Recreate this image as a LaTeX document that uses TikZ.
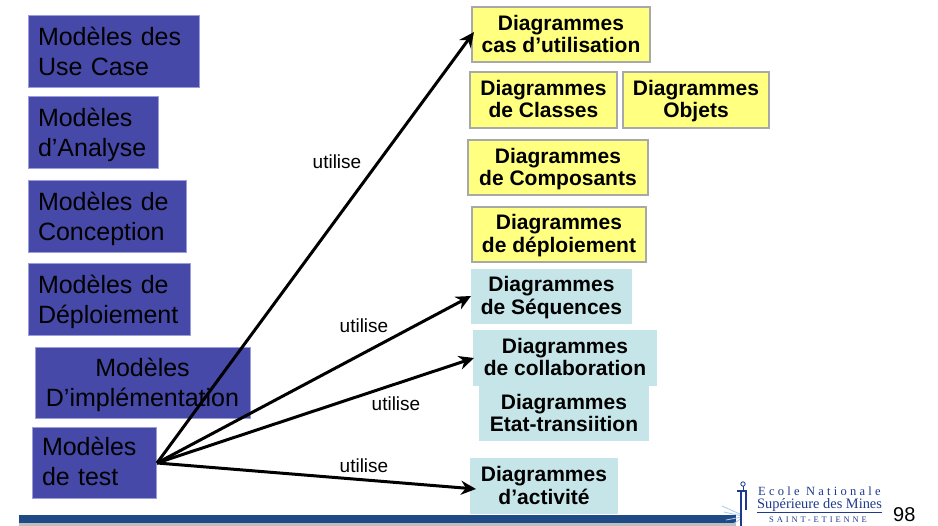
\documentclass[tikz,border=0pt]{standalone}
\usepackage{fontspec}
\setmainfont{Liberation Sans}
\newfontfamily\logofont{Liberation Serif}
\usetikzlibrary{arrows.meta}
\definecolor{modblue}{HTML}{4649A8}
\definecolor{modedge}{HTML}{9A9DDA}
\definecolor{diayellow}{HTML}{FFFF80}
\definecolor{diaedge}{HTML}{A8A8A8}
\definecolor{diacyan}{HTML}{C5E5E8}
\definecolor{barblue}{HTML}{1F4A85}
\definecolor{logoblue}{HTML}{1E3A8A}
\definecolor{raylight}{HTML}{A8C8E8}
\tikzset{
  modbox/.style={rectangle, fill=modblue, draw=modedge, line width=0.8pt, inner sep=0pt},
  modtext/.style={inner sep=0pt, align=left, font=\fontsize{25}{30}\selectfont, text=black, yshift=-3.5pt},
  yelbox/.style={rectangle, fill=diayellow, draw=diaedge, line width=1.5pt, inner sep=0pt},
  cyabox/.style={rectangle, fill=diacyan, draw=none, inner sep=0pt},
  diatext/.style={inner sep=0pt, align=center, font=\fontsize{21}{22}\selectfont\bfseries, text=black, yshift=-2.5pt},
  uselink/.style={line width=3pt, -{Stealth[length=15pt,width=14pt]}},
  uselabel/.style={font=\fontsize{19}{20}\selectfont, inner sep=0pt}
}
\newcommand{\twol}[2]{\strut #1\\\strut #2}
\begin{document}
\begin{tikzpicture}[x=1pt,y=-1pt]
\useasboundingbox (0,0) rectangle (938,526);
% left boxes
\node[modbox, minimum width=171, minimum height=72] (m1) at (113.5,51) {};
\node[modbox, minimum width=130, minimum height=72] (m2) at (93,132) {};
\node[modbox, minimum width=158, minimum height=72] (m3) at (107,216) {};
\node[modbox, minimum width=162, minimum height=72] (m4) at (109,299) {};
\node[modbox, minimum width=215, minimum height=71] (m5) at (142.5,382.5) {};
\node[modbox, minimum width=124, minimum height=71] (m6) at (94,462.5) {};
\node[modtext, text width=151] (m1t) at (m1) {\twol{Modèles des}{Use Case}};
\node[modtext, text width=110] (m2t) at (m2) {\twol{Modèles}{d’Analyse}};
\node[modtext, text width=138] (m3t) at (m3) {\twol{Modèles de}{Conception}};
\node[modtext, text width=142] (m4t) at (m4) {\twol{Modèles de}{Déploiement}};
\node[modtext, text width=195, align=center] (m5t) at (m5) {\twol{Modèles}{D’implémentation}};
\node[modtext, text width=104] (m6t) at ([yshift=1pt]m6.center) {\twol{Modèles}{de test}};
% yellow boxes
\node[yelbox, minimum width=178, minimum height=55] (y1) at (561,34.5) {};
\node[yelbox, minimum width=147, minimum height=56] (y2) at (543.5,100) {};
\node[yelbox, minimum width=146, minimum height=56] (y3) at (696,100) {};
\node[yelbox, minimum width=180, minimum height=55] (y4) at (558,167.5) {};
\node[yelbox, minimum width=174, minimum height=55] (y5) at (559,234.5) {};
% cyan boxes
\node[cyabox, minimum width=161, minimum height=55] (c1) at (551.5,296.5) {};
\node[cyabox, minimum width=170, minimum height=55] (c3) at (564,413.5) {};
\node[cyabox, minimum width=184, minimum height=56] (c2) at (565,358) {};
\node[cyabox, minimum width=148, minimum height=56] (c4) at (544,486) {};
\node[diatext] (y1t) at (y1) {\twol{Diagrammes}{cas d’utilisation}};
\node[diatext] (y2t) at (y2) {\twol{Diagrammes}{de Classes}};
\node[diatext] (y3t) at (y3) {\twol{Diagrammes}{Objets}};
\node[diatext] (y4t) at (y4) {\twol{Diagrammes}{de Composants}};
\node[diatext] (y5t) at (y5) {\twol{Diagrammes}{de déploiement}};
\node[diatext] (c1t) at (c1) {\twol{Diagrammes}{de Séquences}};
\node[diatext] (c2t) at (c2) {\twol{Diagrammes}{de collaboration}};
\node[diatext] (c3t) at (c3) {\twol{Diagrammes}{Etat-transiition}};
\node[diatext] (c4t) at (c4) {\twol{Diagrammes}{d’activité}};
% arrows
\coordinate (o) at (157,463);
\coordinate (t1) at (474,32);
\coordinate (t2) at (471,296);
\coordinate (t3) at (474,358);
\coordinate (t4) at (476,489);
\draw[uselink] (o) -- (t1);
\draw[uselink] (o) -- (t2);
\draw[uselink] (o) -- (t3);
\draw[uselink] (o) -- (t4);
\node[uselabel] (l1) at (337,162) {utilise};
\node[uselabel] (l2) at (364,326) {utilise};
\node[uselabel] (l3) at (396,404) {utilise};
\node[uselabel] (l4) at (364,466) {utilise};
% bottom bar
\fill[barblue] (19,515) rectangle (736,523);
\fill[black!25] (19,523) rectangle (736,526);
% logo
\draw[raylight, line width=0.8pt] (742,515) -- (722,506) (742,516) -- (724,512) (742,517) -- (726,520) (742,518) -- (730,526);
\draw[logoblue, line width=0.8pt] (743,484) circle (2.2pt);
\draw[logoblue, line width=1pt] (743,486.5) -- (743,490);
\draw[logoblue, line width=2.5pt] (741,491) -- (741,526);
\draw[logoblue, line width=1.2pt] (746,491) -- (746,510);
\draw[logoblue, line width=1.2pt] (737,491) -- (747,491);
\node[anchor=base west, inner sep=0pt, text=logoblue, font=\logofont\fontsize{12.5}{13}\selectfont\addfontfeature{LetterSpace=26}] (e1) at (758,496) {Ecole Nationale};
\node[anchor=base west, inner sep=0pt, text=logoblue, font=\logofont\fontsize{14.4}{15}\selectfont] (e2) at (757,509) {Supérieure des Mines};
\draw[logoblue, line width=0.6pt] (757,512) -- (882,512);
\node[anchor=base west, inner sep=0pt, text=logoblue, font=\logofont\fontsize{8.5}{9}\selectfont\addfontfeature{LetterSpace=34}] (e3) at (769,523) {SAINT-ETIENNE};
\node[anchor=base west, inner sep=0pt, font=\fontsize{20}{20}\selectfont] (pg) at (893,522) {98};
\end{tikzpicture}
\end{document}
